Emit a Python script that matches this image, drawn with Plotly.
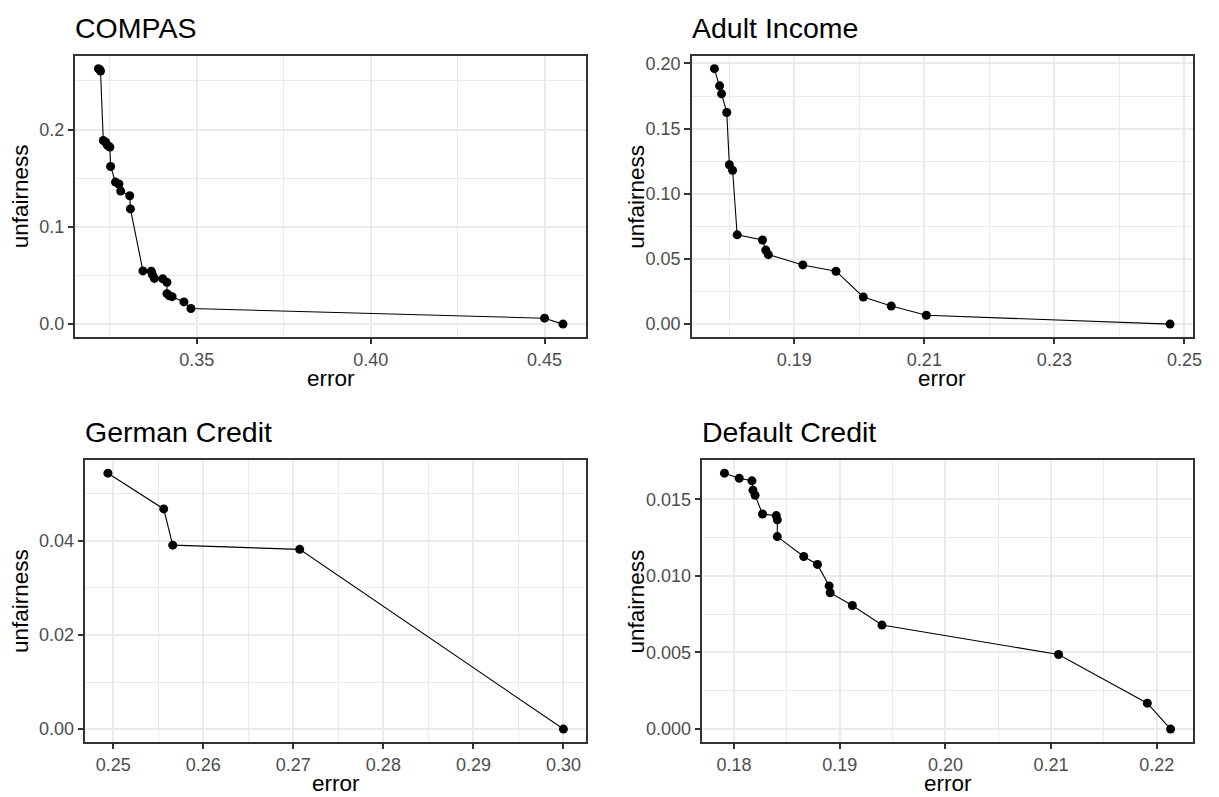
import plotly.graph_objects as go

# ---------------- data ----------------
compas_error = [0.3217, 0.3220, 0.3223, 0.3231, 0.3238, 0.3243, 0.3250, 0.3252,
                0.3266, 0.3276, 0.3281, 0.3307, 0.3309, 0.3345, 0.3369, 0.3372,
                0.3378, 0.3402, 0.3414, 0.3414, 0.3421, 0.3429, 0.3463, 0.3483,
                0.4500, 0.4553]
compas_unfair = [0.2626, 0.2618, 0.2602, 0.1888, 0.1870, 0.1837, 0.1820, 0.1620,
                 0.1460, 0.1440, 0.1367, 0.1320, 0.1184, 0.0547, 0.0544, 0.0510,
                 0.0470, 0.0465, 0.0429, 0.0313, 0.0292, 0.0282, 0.0228, 0.0160,
                 0.0061, 0.0000]

adult_error = [0.1777, 0.1785, 0.1788, 0.1796, 0.1800, 0.1805, 0.1812, 0.1851,
               0.1856, 0.1860, 0.1913, 0.1964, 0.2006, 0.2049, 0.2103, 0.2478]
adult_unfair = [0.1960, 0.1828, 0.1767, 0.1624, 0.1223, 0.1180, 0.0685, 0.0645,
                0.0568, 0.0533, 0.0454, 0.0406, 0.0208, 0.0139, 0.0068, 0.0000]

german_error = [0.2494, 0.2556, 0.2566, 0.2707, 0.3000]
german_unfair = [0.0544, 0.0468, 0.0391, 0.0382, 0.0000]

default_error = [0.1791, 0.1805, 0.1817, 0.1818, 0.1820, 0.1827, 0.1840, 0.1841,
                 0.1841, 0.1866, 0.1879, 0.1890, 0.1891, 0.1912, 0.1940, 0.2107,
                 0.2191, 0.2213]
default_unfair = [0.01671, 0.01638, 0.01621, 0.01560, 0.01526, 0.01404, 0.01394,
                  0.01366, 0.01257, 0.01127, 0.01075, 0.00935, 0.00890, 0.00807,
                  0.00679, 0.00487, 0.00169, 0.00000]

titles = ["COMPAS", "Adult Income", "German Credit", "Default Credit"]
x_label = "error"
y_label = "unfairness"

# ---------------- layout helpers ----------------
W, H = 1219, 797
OFF = 8  # default page body margin
FONT = "Liberation Sans, Arial, Helvetica, sans-serif"

def px_x(p):
    return (p - OFF) / W

def px_y(p):
    return 1 - (p - OFF) / H

# panel pixel boxes in page pixels: (left, right, top, bottom)
boxes = [
    (75.7, 590.5, 54.0, 335.7),
    (696.7, 1201.7, 54.0, 335.7),
    (85.7, 590.5, 459.5, 741.7),
    (707.3, 1201.7, 459.5, 741.7),
]

def expand(vals, frac=0.05):
    lo, hi = min(vals), max(vals)
    d = (hi - lo) * frac
    return [lo - d, hi + d]

panels = [
    (compas_error, compas_unfair, (0.35, 0.05, ".2f"), (0.0, 0.1, ".1f")),
    (adult_error, adult_unfair, (0.19, 0.02, ".2f"), (0.0, 0.05, ".2f")),
    (german_error, german_unfair, (0.25, 0.01, ".2f"), (0.0, 0.02, ".2f")),
    (default_error, default_unfair, (0.18, 0.01, ".2f"), (0.0, 0.005, ".3f")),
]

fig = go.Figure()
layout = dict(
    width=W, height=H,
    margin=dict(l=0, r=0, t=0, b=0),
    paper_bgcolor="white", plot_bgcolor="white",
    showlegend=False,
    font=dict(family=FONT, color="black"),
)
annotations = []

for i, (xs, ys, xt, yt) in enumerate(panels):
    n = i + 1
    xa = "xaxis" if n == 1 else f"xaxis{n}"
    ya = "yaxis" if n == 1 else f"yaxis{n}"
    xr = "x" if n == 1 else f"x{n}"
    yr = "y" if n == 1 else f"y{n}"
    l, r, t, b = boxes[i]

    fig.add_trace(go.Scatter(
        x=xs, y=ys, mode="lines+markers", xaxis=xr, yaxis=yr,
        line=dict(color="black", width=1.1),
        marker=dict(color="black", size=9),
        hoverinfo="skip",
    ))

    common = dict(
        showline=True, mirror=True, linecolor="#333333", linewidth=1.8,
        ticks="outside", ticklen=5.5, tickwidth=1.8, tickcolor="#333333",
        showgrid=True, gridcolor="#EBEBEB", gridwidth=2.2,
        zeroline=False,
        tickfont=dict(family=FONT, size=18, color="#4D4D4D"),
        tickmode="linear",
    )
    layout[xa] = dict(
        common, domain=[px_x(l), px_x(r)], range=expand(xs),
        tick0=xt[0], dtick=xt[1], tickformat=xt[2], anchor=yr,
        minor=dict(tick0=xt[0] - xt[1] / 2, dtick=xt[1], showgrid=True,
                   gridcolor="#EBEBEB", gridwidth=1.1, ticklen=0),
    )
    layout[ya] = dict(
        common, domain=[px_y(b), px_y(t)], range=expand(ys),
        tick0=yt[0], dtick=yt[1], tickformat=yt[2], anchor=xr,
        minor=dict(tick0=yt[0] - yt[1] / 2, dtick=yt[1], showgrid=True,
                   gridcolor="#EBEBEB", gridwidth=1.1, ticklen=0),
    )

    # panel title
    annotations.append(dict(
        text=titles[i], xref="paper", yref="paper",
        x=px_x(l), y=px_y(t - 28), xanchor="left", yanchor="middle",
        showarrow=False, font=dict(family=FONT, size=28.5, color="black"),
        xshift=-2,
    ))
    # x-axis title
    annotations.append(dict(
        text=x_label, xref="paper", yref="paper",
        x=px_x((l + r) / 2), y=px_y(b + 42), xanchor="center", yanchor="middle",
        showarrow=False, font=dict(family=FONT, size=22.5, color="black"),
    ))
    # y-axis title
    col_left = 0 if l < 600 else 621
    annotations.append(dict(
        text=y_label, xref="paper", yref="paper",
        x=px_x(col_left + 20), y=px_y((t + b) / 2), xanchor="center", yanchor="middle",
        textangle=-90, showarrow=False,
        font=dict(family=FONT, size=22.5, color="black"),
    ))

layout["annotations"] = annotations
fig.update_layout(**layout)
fig.write_html("out.html")
